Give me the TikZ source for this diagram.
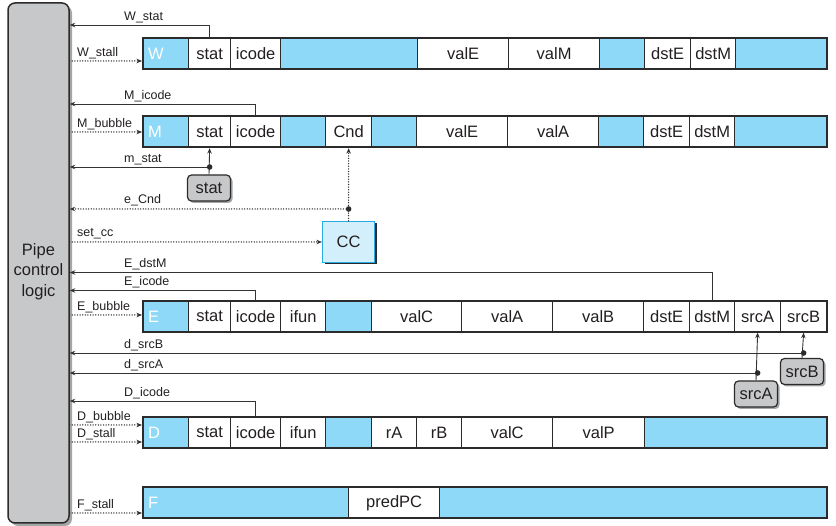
\documentclass[tikz,border=0pt]{standalone}
\usepackage{fontspec}
\setmainfont{Liberation Sans}
\usetikzlibrary{arrows.meta,shadows}
\definecolor{pipeblue}{HTML}{8ED8F8}
\definecolor{pgray}{HTML}{C7C8CA}
\definecolor{linec}{HTML}{2B2B2B}
\definecolor{sigc}{HTML}{333333}
\definecolor{ccfill}{HTML}{D3EFFB}
\definecolor{ccdraw}{HTML}{2AAAE2}
\definecolor{shadc}{HTML}{A5A6A8}
\definecolor{txtc}{HTML}{231F20}
\begin{document}
\begin{tikzpicture}[x=1pt,y=-1pt,
  cellfont/.style={font=\fontsize{16.5}{18}\selectfont},
  cell/.style={draw=linec, line width=1.3pt, fill=white, minimum height=31pt, inner sep=0pt, anchor=west, text=txtc, cellfont},
  bcell/.style={cell, fill=pipeblue},
  reg/.style={draw=linec, line width=2pt, minimum height=31pt, minimum width=684pt, inner sep=0pt, anchor=west},
  stagelbl/.style={anchor=west, text=white, inner sep=0pt, cellfont},
  lbl/.style={anchor=base west, inner sep=0pt, text=txtc, font=\fontsize{12.5}{14}\selectfont},
  sig/.style={draw=sigc, line width=0.9pt, -{Stealth[length=5.5pt,width=4.5pt]}},
  ctl/.style={draw=sigc, line width=1.5pt, line cap=round, dash pattern=on 0pt off 2.6pt, -{Stealth[length=5.5pt,width=4.5pt]}},
  gbox/.style={draw=linec, line width=1.2pt, fill=pgray, rounded corners=4pt, minimum width=43pt, minimum height=26pt, inner sep=0pt, text=txtc, cellfont, drop shadow={shadow xshift=2pt, shadow yshift=-2pt, fill=shadc, opacity=1}},
  jdot/.style={fill=linec}
]
\useasboundingbox (0,0) rectangle (836,526);

% pipe control logic
\node[draw=linec, line width=1.5pt, fill=pgray, rounded corners=7pt, minimum width=61pt, minimum height=520pt, inner sep=0pt,
  drop shadow={shadow xshift=3pt, shadow yshift=-3pt, fill=shadc, opacity=1}] (pcl) at (38.5,263) {};
\node[align=center, text=txtc, font=\fontsize{16.5}{20.5}\selectfont] (pcltext) at (38.5,271.5) {Pipe\\control\\logic};

% W register
\node[bcell, minimum width=46pt] (Wb0) at (142,54) {};
\node[cell, minimum width=42pt] (Wstat) at (188,54) {stat};
\node[cell, minimum width=50pt] (Wicode) at (230,54) {icode};
\node[bcell, minimum width=137pt] (Wb1) at (280,54) {};
\node[cell, minimum width=91pt] (WvalE) at (417,54) {valE};
\node[cell, minimum width=91pt] (WvalM) at (508,54) {valM};
\node[bcell, minimum width=45pt] (Wb2) at (599,54) {};
\node[cell, minimum width=46pt] (WdstE) at (644,54) {dstE};
\node[cell, minimum width=45pt] (WdstM) at (690,54) {dstM};
\node[bcell, minimum width=91pt] (Wb3) at (735,54) {};
\node[reg] (Wreg) at (142,54) {};
\node[stagelbl] (Wlab) at (148,54) {W};

% M register
\node[bcell, minimum width=46pt] (Mb0) at (142,132) {};
\node[cell, minimum width=42pt] (Mstat) at (188,132) {stat};
\node[cell, minimum width=50pt] (Micode) at (230,132) {icode};
\node[bcell, minimum width=45pt] (Mb1) at (280,132) {};
\node[cell, minimum width=46pt] (Mcnd) at (325,132) {Cnd};
\node[bcell, minimum width=45pt] (Mb2) at (371,132) {};
\node[cell, minimum width=91pt] (MvalE) at (416,132) {valE};
\node[cell, minimum width=91pt] (MvalA) at (507,132) {valA};
\node[bcell, minimum width=45pt] (Mb3) at (598,132) {};
\node[cell, minimum width=46pt] (MdstE) at (643,132) {dstE};
\node[cell, minimum width=45pt] (MdstM) at (689,132) {dstM};
\node[bcell, minimum width=92pt] (Mb4) at (734,132) {};
\node[reg] (Mreg) at (142,132) {};
\node[stagelbl] (Mlab) at (148,132) {M};

% E register
\node[bcell, minimum width=46pt] (Eb0) at (142,316.5) {};
\node[cell, minimum width=42pt] (Estat) at (188,316.5) {stat};
\node[cell, minimum width=50pt] (Eicode) at (230,316.5) {icode};
\node[cell, minimum width=45pt] (Eifun) at (280,316.5) {ifun};
\node[bcell, minimum width=46pt] (Eb1) at (325,316.5) {};
\node[cell, minimum width=90pt] (EvalC) at (371,316.5) {valC};
\node[cell, minimum width=91pt] (EvalA) at (461,316.5) {valA};
\node[cell, minimum width=91pt] (EvalB) at (552,316.5) {valB};
\node[cell, minimum width=46pt] (EdstE) at (643,316.5) {dstE};
\node[cell, minimum width=45pt] (EdstM) at (689,316.5) {dstM};
\node[cell, minimum width=46pt] (EsrcA) at (734,316.5) {srcA};
\node[cell, minimum width=46pt] (EsrcB) at (780,316.5) {srcB};
\node[reg] (Ereg) at (142,316.5) {};
\node[stagelbl] (Elab) at (148,316.5) {E};

% D register
\node[bcell, minimum width=46pt] (Db0) at (142,432.5) {};
\node[cell, minimum width=42pt] (Dstat) at (188,432.5) {stat};
\node[cell, minimum width=50pt] (Dicode) at (230,432.5) {icode};
\node[cell, minimum width=45pt] (Difun) at (280,432.5) {ifun};
\node[bcell, minimum width=46pt] (Db1) at (325,432.5) {};
\node[cell, minimum width=45pt] (DrA) at (371,432.5) {rA};
\node[cell, minimum width=45pt] (DrB) at (416,432.5) {rB};
\node[cell, minimum width=91pt] (DvalC) at (461,432.5) {valC};
\node[cell, minimum width=92pt] (DvalP) at (552,432.5) {valP};
\node[bcell, minimum width=182pt] (Db2) at (644,432.5) {};
\node[reg] (Dreg) at (142,432.5) {};
\node[stagelbl] (Dlab) at (148,432.5) {D};

% F register
\node[bcell, minimum width=206pt] (Fb0) at (142,503) {};
\node[cell, minimum width=91pt] (FpredPC) at (348,503) {predPC};
\node[bcell, minimum width=387pt] (Fb1) at (439,503) {};
\node[reg] (Freg) at (142,503) {};
\node[stagelbl] (Flab) at (148,503) {F};

% auxiliary blocks
\node[gbox] (statbox) at (209,188) {stat};
\node[gbox] (srcBbox) at (802,371.5) {srcB};
\node[gbox] (srcAbox) at (756,394) {srcA};
\node[draw=ccdraw, line width=1.2pt, fill=ccfill, minimum width=52pt, minimum height=41pt, inner sep=0pt, text=txtc, cellfont,
  drop shadow={shadow xshift=2pt, shadow yshift=-2pt, fill=linec, opacity=1}] (CC) at (348.5,242) {CC};

% junction coordinates
\coordinate (mstatJ) at (Mstat.south |- 0,167);
\coordinate (cndJ) at (Mcnd.south |- 0,209);
\coordinate (srcBJ) at (EsrcB.south |- 0,353);
\coordinate (srcAJ) at (EsrcA.south |- 0,373);

% W signals
\draw[sig] (Wstat.north) |- (pcl.east |- 0,25);
\node[lbl] (lWstat) at (124,20.5) {W\_stat};
\draw[ctl] (pcl.east |- 0,61) -- (Wb0.west |- 0,61);
\node[lbl] (lWstall) at (77,56.5) {W\_stall};

% M signals
\draw[sig] (Micode.north) |- (pcl.east |- 0,104);
\node[lbl] (lMicode) at (124,99.5) {M\_icode};
\draw[ctl] (pcl.east |- Mb0.west) -- (Mb0.west);
\node[lbl] (lMbubble) at (77,127.5) {M\_bubble};
\draw[sig] (statbox.north) -- (Mstat.south);
\draw[sig] (mstatJ) -- (pcl.east |- mstatJ);
\fill[jdot] (mstatJ) circle[radius=2.8pt];
\node[lbl] (lmstat) at (124,162.5) {m\_stat};

% e_Cnd and set_cc
\draw[ctl] (CC.north) -- (Mcnd.south);
\draw[ctl] (cndJ) -- (pcl.east |- cndJ);
\fill[jdot] (cndJ) circle[radius=2.8pt];
\node[lbl] (leCnd) at (124,203.5) {e\_Cnd};
\draw[ctl] (pcl.east |- CC.west) -- (CC.west);
\node[lbl] (lsetcc) at (77,236.5) {set\_cc};

% E signals
\draw[sig] (EdstM.north) |- (pcl.east |- 0,272.5);
\node[lbl] (lEdstM) at (124,268) {E\_dstM};
\draw[sig] (Eicode.north) |- (pcl.east |- 0,290.5);
\node[lbl] (lEicode) at (124,286) {E\_icode};
\draw[ctl] (pcl.east |- 0,315) -- (Eb0.west |- 0,315);
\node[lbl] (lEbubble) at (77,310.5) {E\_bubble};

% d_srcB, d_srcA
\draw[sig] (srcBbox.north) -- (EsrcB.south);
\draw[sig] (srcBJ) -- (pcl.east |- srcBJ);
\fill[jdot] (srcBJ) circle[radius=2.8pt];
\node[lbl] (ldsrcB) at (124,348.5) {d\_srcB};
\draw[sig] (srcAbox.north) -- (EsrcA.south);
\draw[sig] (srcAJ) -- (pcl.east |- srcAJ);
\fill[jdot] (srcAJ) circle[radius=2.8pt];
\node[lbl] (ldsrcA) at (124,368.5) {d\_srcA};

% D signals
\draw[sig] (Dicode.north) |- (pcl.east |- 0,401);
\node[lbl] (lDicode) at (124,396.5) {D\_icode};
\draw[ctl] (pcl.east |- 0,425) -- (Db0.west |- 0,425);
\node[lbl] (lDbubble) at (77,420.5) {D\_bubble};
\draw[ctl] (pcl.east |- 0,442) -- (Db0.west |- 0,442);
\node[lbl] (lDstall) at (77,437.5) {D\_stall};

% F signal
\draw[ctl] (pcl.east |- 0,513) -- (Fb0.west |- 0,513);
\node[lbl] (lFstall) at (77,508.5) {F\_stall};
\end{tikzpicture}
\end{document}
